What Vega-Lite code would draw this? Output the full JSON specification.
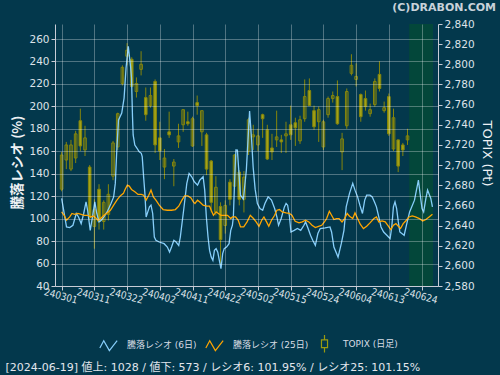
{
  "$schema": "https://vega.github.io/schema/vega-lite/v6.json",
  "width": 383,
  "height": 262,
  "autosize": "none",
  "padding": {"left": 55, "top": 24, "right": 62, "bottom": 89},
  "background": "#03384c",
  "title": {"text": "(C)DRABON.COM", "anchor": "end", "frame": "group", "orient": "top", "dx": 58, "offset": 6, "font": "DejaVu Sans", "fontSize": 11, "fontWeight": "bold", "color": "#c8d2da"},
  "datasets": {
    "zone": [{"s": 74.35, "e": 79.45}],
    "keys": [{"k": "騰落レシオ (6日)"}, {"k": "騰落レシオ (25日)"}, {"k": "TOPIX (日足)"}],
    "candles": [
      {"i":0,"o":2676,"h":2713,"l":2674,"c":2710},{"i":1,"o":2705,"h":2723,"l":2696,"c":2720},{"i":2,"o":2696,"h":2725,"l":2694,"c":2720},{"i":3,"o":2707,"h":2734,"l":2702,"c":2731},{"i":4,"o":2744,"h":2756,"l":2714,"c":2719},
      {"i":5,"o":2715,"h":2739,"l":2709,"c":2727},{"i":6,"o":2698,"h":2700,"l":2645,"c":2648},{"i":7,"o":2639,"h":2666,"l":2617,"c":2656},{"i":8,"o":2676,"h":2681,"l":2636,"c":2644},{"i":9,"o":2644,"h":2665,"l":2636,"c":2663},
      {"i":10,"o":2651,"h":2681,"l":2645,"c":2671},{"i":11,"o":2689,"h":2724,"l":2685,"c":2722},{"i":12,"o":2718,"h":2752,"l":2715,"c":2751},{"i":13,"o":2781,"h":2799,"l":2779,"c":2797},{"i":14,"o":2808,"h":2821,"l":2799,"c":2814},
      {"i":15,"o":2805,"h":2807,"l":2777,"c":2778},{"i":16,"o":2773,"h":2787,"l":2767,"c":2781},{"i":17,"o":2795,"h":2813,"l":2789,"c":2800},{"i":18,"o":2767,"h":2777,"l":2744,"c":2750},{"i":19,"o":2759,"h":2777,"l":2757,"c":2769},
      {"i":20,"o":2783,"h":2785,"l":2712,"c":2720},{"i":21,"o":2727,"h":2743,"l":2705,"c":2714},{"i":22,"o":2698,"h":2716,"l":2686,"c":2707},{"i":23,"o":2733,"h":2753,"l":2727,"c":2730},{"i":24,"o":2699,"h":2706,"l":2679,"c":2703},
      {"i":25,"o":2723,"h":2741,"l":2717,"c":2729},{"i":26,"o":2740,"h":2755,"l":2733,"c":2755},{"i":27,"o":2743,"h":2753,"l":2739,"c":2741},{"i":28,"o":2719,"h":2748,"l":2718,"c":2746},{"i":29,"o":2762,"h":2769,"l":2750,"c":2759},
      {"i":30,"o":2733,"h":2754,"l":2719,"c":2754},{"i":31,"o":2730,"h":2732,"l":2690,"c":2696},{"i":32,"o":2704,"h":2705,"l":2653,"c":2663},{"i":33,"o":2653,"h":2689,"l":2650,"c":2678},{"i":34,"o":2659,"h":2663,"l":2598,"c":2626},
      {"i":35,"o":2640,"h":2665,"l":2632,"c":2660},{"i":36,"o":2683,"h":2686,"l":2660,"c":2666},{"i":37,"o":2679,"h":2711,"l":2676,"c":2710},{"i":38,"o":2693,"h":2695,"l":2660,"c":2666},{"i":39,"o":2666,"h":2694,"l":2653,"c":2688},
      {"i":40,"o":2714,"h":2747,"l":2710,"c":2745},{"i":41,"o":2728,"h":2740,"l":2715,"c":2730},{"i":42,"o":2720,"h":2736,"l":2714,"c":2729},{"i":43,"o":2750,"h":2751,"l":2727,"c":2746},{"i":44,"o":2735,"h":2740,"l":2705,"c":2706},
      {"i":45,"o":2717,"h":2731,"l":2705,"c":2713},{"i":46,"o":2725,"h":2754,"l":2718,"c":2728},{"i":47,"o":2725,"h":2730,"l":2712,"c":2723},{"i":48,"o":2729,"h":2743,"l":2712,"c":2731},{"i":49,"o":2740,"h":2759,"l":2725,"c":2730},
      {"i":50,"o":2742,"h":2747,"l":2719,"c":2737},{"i":51,"o":2724,"h":2749,"l":2721,"c":2745},{"i":52,"o":2746,"h":2785,"l":2743,"c":2768},{"i":53,"o":2774,"h":2786,"l":2759,"c":2759},{"i":54,"o":2754,"h":2759,"l":2735,"c":2738},
      {"i":55,"o":2743,"h":2758,"l":2723,"c":2755},{"i":56,"o":2718,"h":2745,"l":2715,"c":2743},{"i":57,"o":2750,"h":2768,"l":2747,"c":2766},{"i":58,"o":2766,"h":2773,"l":2762,"c":2769},{"i":59,"o":2768,"h":2784,"l":2740,"c":2741},
      {"i":60,"o":2713,"h":2732,"l":2695,"c":2726},{"i":61,"o":2739,"h":2776,"l":2736,"c":2773},{"i":62,"o":2791,"h":2810,"l":2789,"c":2799},{"i":63,"o":2785,"h":2801,"l":2778,"c":2788},{"i":64,"o":2770,"h":2771,"l":2743,"c":2748},
      {"i":65,"o":2766,"h":2774,"l":2754,"c":2758},{"i":66,"o":2751,"h":2761,"l":2748,"c":2755},{"i":67,"o":2760,"h":2786,"l":2758,"c":2783},{"i":68,"o":2790,"h":2803,"l":2773,"c":2776},{"i":69,"o":2754,"h":2763,"l":2752,"c":2757},
      {"i":70,"o":2768,"h":2771,"l":2729,"c":2731},{"i":71,"o":2716,"h":2756,"l":2714,"c":2747},{"i":72,"o":2725,"h":2725,"l":2693,"c":2699},{"i":73,"o":2720,"h":2722,"l":2709,"c":2715},{"i":74,"o":2725,"h":2736,"l":2720,"c":2729}
    ],
    "r6": [
      {"i":0,"v":118.0},{"i":1.04,"v":92.6},{"i":1.73,"v":92.0},{"i":2.42,"v":94.1},{"i":3.13,"v":104.6},{"i":3.61,"v":101.5},{"i":4.18,"v":95.6},{"i":4.72,"v":104.6},{"i":5.22,"v":114.9},{"i":5.55,"v":107.5},
      {"i":6.12,"v":89.6},{"i":6.6,"v":101.5},{"i":7.1,"v":114.9},{"i":7.52,"v":104.6},{"i":8.0,"v":97.1},{"i":8.48,"v":98.6},{"i":9.04,"v":101.5},{"i":9.73,"v":106.0},{"i":10.56,"v":113.5},{"i":11.13,"v":119.4},
      {"i":11.48,"v":131.4},{"i":11.82,"v":162.7},{"i":12.17,"v":188.0},{"i":12.86,"v":194.0},{"i":13.36,"v":207.4},{"i":13.78,"v":234.2},{"i":14.26,"v":253.6},{"i":14.74,"v":235.7},{"i":14.95,"v":225.3},{"i":15.16,"v":191.0},
      {"i":15.3,"v":174.6},{"i":15.66,"v":165.6},{"i":16.14,"v":162.7},{"i":16.56,"v":159.7},{"i":17.04,"v":158.2},{"i":17.24,"v":155.2},{"i":17.54,"v":137.3},{"i":17.81,"v":122.5},{"i":18.08,"v":101.5},{"i":18.43,"v":106.0},
      {"i":18.79,"v":110.5},{"i":19.12,"v":112.0},{"i":19.48,"v":104.6},{"i":19.83,"v":83.6},{"i":20.17,"v":80.7},{"i":20.88,"v":79.2},{"i":21.92,"v":77.7},{"i":22.61,"v":74.7},{"i":23.09,"v":70.2},{"i":23.51,"v":74.7},
      {"i":24.01,"v":80.7},{"i":24.49,"v":79.2},{"i":25.05,"v":76.2},{"i":25.39,"v":83.6},{"i":26.1,"v":107.5},{"i":26.78,"v":131.4},{"i":27.27,"v":140.3},{"i":27.83,"v":137.3},{"i":28.39,"v":132.8},{"i":29.08,"v":129.9},
      {"i":29.56,"v":134.3},{"i":30.27,"v":137.3},{"i":30.61,"v":125.4},{"i":30.96,"v":101.5},{"i":31.32,"v":83.6},{"i":31.65,"v":71.7},{"i":32.0,"v":65.8},{"i":32.36,"v":62.8},{"i":32.69,"v":71.7},{"i":33.05,"v":73.3},
      {"i":33.4,"v":70.2},{"i":33.74,"v":62.8},{"i":34.09,"v":55.4},{"i":34.45,"v":68.8},{"i":34.78,"v":73.3},{"i":35.28,"v":74.7},{"i":35.82,"v":77.7},{"i":36.18,"v":89.6},{"i":36.53,"v":94.1},{"i":36.74,"v":101.5},
      {"i":37.01,"v":134.3},{"i":37.29,"v":161.2},{"i":37.6,"v":161.0},{"i":38.26,"v":120.9},{"i":38.89,"v":117.4},{"i":39.52,"v":143.3},{"i":40.21,"v":195.8},{"i":40.63,"v":171.0},{"i":40.98,"v":145.7},{"i":41.4,"v":126.3},
      {"i":41.88,"v":113.5},{"i":42.44,"v":109.0},{"i":43.01,"v":107.5},{"i":43.49,"v":113.5},{"i":44.18,"v":119.4},{"i":44.89,"v":116.5},{"i":45.57,"v":109.0},{"i":46.05,"v":101.5},{"i":46.41,"v":94.1},{"i":46.97,"v":100.1},
      {"i":47.66,"v":110.5},{"i":48.02,"v":113.5},{"i":48.35,"v":112.0},{"i":48.71,"v":103.0},{"i":49.06,"v":88.1},{"i":49.75,"v":89.6},{"i":50.44,"v":91.2},{"i":51.15,"v":89.6},{"i":51.84,"v":94.1},{"i":52.19,"v":97.1},
      {"i":52.73,"v":91.2},{"i":53.24,"v":85.2},{"i":53.72,"v":80.7},{"i":54.28,"v":76.2},{"i":54.82,"v":86.7},{"i":55.32,"v":91.2},{"i":56.37,"v":91.7},{"i":57.41,"v":92.6},{"i":57.75,"v":88.1},{"i":58.25,"v":74.7},
      {"i":59.14,"v":65.8},{"i":59.83,"v":77.7},{"i":60.4,"v":89.6},{"i":60.88,"v":110.5},{"i":61.59,"v":122.5},{"i":62.28,"v":131.4},{"i":62.76,"v":125.4},{"i":63.32,"v":119.4},{"i":63.8,"v":112.0},{"i":64.36,"v":104.6},
      {"i":64.84,"v":116.5},{"i":65.26,"v":120.9},{"i":65.97,"v":120.9},{"i":66.45,"v":119.4},{"i":66.93,"v":114.9},{"i":67.35,"v":110.5},{"i":67.85,"v":101.5},{"i":68.33,"v":92.6},{"i":68.89,"v":88.1},{"i":69.58,"v":85.2},
      {"i":70.27,"v":82.2},{"i":70.63,"v":92.6},{"i":70.98,"v":110.5},{"i":71.32,"v":114.9},{"i":71.67,"v":109.0},{"i":72.03,"v":97.1},{"i":72.36,"v":88.1},{"i":73.28,"v":85.2},{"i":73.76,"v":94.1},{"i":74.45,"v":106.0},
      {"i":75.49,"v":116.5},{"i":76.33,"v":134.3},{"i":76.68,"v":122.5},{"i":77.1,"v":109.0},{"i":77.45,"v":106.0},{"i":77.93,"v":118.0},{"i":78.29,"v":125.4},{"i":78.98,"v":118.0},{"i":79.33,"v":110.5}
    ],
    "r25": [
      {"i":0,"v":106.0},{"i":0.54,"v":103.0},{"i":1.04,"v":98.6},{"i":1.73,"v":101.5},{"i":2.21,"v":104.6},{"i":2.78,"v":103.9},{"i":3.47,"v":104.6},{"i":4.18,"v":103.9},{"i":4.86,"v":103.0},{"i":5.55,"v":103.0},
      {"i":6.26,"v":101.5},{"i":6.81,"v":102.4},{"i":7.31,"v":100.6},{"i":7.79,"v":98.6},{"i":8.35,"v":100.1},{"i":9.04,"v":103.0},{"i":9.73,"v":105.1},{"i":10.44,"v":107.5},{"i":11.13,"v":112.0},{"i":11.82,"v":116.5},
      {"i":12.53,"v":120.3},{"i":13.22,"v":122.5},{"i":13.57,"v":126.0},{"i":14.05,"v":129.9},{"i":14.47,"v":129.0},{"i":14.95,"v":126.0},{"i":15.66,"v":123.9},{"i":16.35,"v":121.6},{"i":17.04,"v":121.6},{"i":17.54,"v":120.9},
      {"i":18.08,"v":116.5},{"i":18.64,"v":120.9},{"i":19.12,"v":125.4},{"i":19.62,"v":119.4},{"i":20.17,"v":116.5},{"i":20.88,"v":112.0},{"i":21.71,"v":108.1},{"i":22.61,"v":107.5},{"i":23.51,"v":107.5},{"i":24.34,"v":108.1},
      {"i":25.05,"v":111.1},{"i":25.74,"v":116.5},{"i":26.3,"v":120.3},{"i":26.99,"v":120.3},{"i":27.68,"v":118.5},{"i":28.18,"v":114.9},{"i":28.52,"v":113.5},{"i":29.08,"v":116.5},{"i":29.56,"v":114.9},{"i":30.27,"v":112.0},
      {"i":30.96,"v":111.1},{"i":31.65,"v":111.1},{"i":32.0,"v":107.5},{"i":32.48,"v":103.0},{"i":33.05,"v":106.0},{"i":33.53,"v":104.6},{"i":34.09,"v":103.0},{"i":35.49,"v":103.0},{"i":36.18,"v":100.1},{"i":36.53,"v":101.5},
      {"i":37.22,"v":101.5},{"i":37.79,"v":98.6},{"i":38.27,"v":92.6},{"i":38.96,"v":92.6},{"i":39.67,"v":97.1},{"i":40.36,"v":103.0},{"i":41.04,"v":100.1},{"i":41.61,"v":97.1},{"i":42.23,"v":93.2},{"i":42.8,"v":98.6},
      {"i":43.28,"v":101.5},{"i":43.84,"v":97.1},{"i":44.32,"v":93.2},{"i":44.89,"v":98.6},{"i":45.57,"v":103.0},{"i":46.05,"v":107.5},{"i":46.62,"v":108.1},{"i":47.18,"v":106.0},{"i":48.02,"v":105.1},{"i":48.71,"v":104.6},
      {"i":49.27,"v":103.0},{"i":49.96,"v":97.7},{"i":50.79,"v":96.2},{"i":51.48,"v":97.1},{"i":52.19,"v":98.6},{"i":52.88,"v":97.1},{"i":53.57,"v":94.1},{"i":54.28,"v":92.0},{"i":54.97,"v":93.2},{"i":55.66,"v":94.1},
      {"i":56.22,"v":97.1},{"i":56.7,"v":100.1},{"i":57.27,"v":106.6},{"i":57.75,"v":103.0},{"i":58.25,"v":99.2},{"i":58.79,"v":100.1},{"i":59.35,"v":100.1},{"i":59.98,"v":97.1},{"i":60.54,"v":100.1},{"i":61.09,"v":104.6},
      {"i":61.59,"v":102.2},{"i":62.28,"v":100.1},{"i":62.76,"v":105.1},{"i":63.32,"v":100.1},{"i":63.88,"v":95.0},{"i":64.57,"v":91.2},{"i":65.26,"v":93.2},{"i":65.97,"v":96.2},{"i":66.81,"v":100.1},{"i":67.35,"v":101.5},
      {"i":67.85,"v":97.1},{"i":68.54,"v":98.0},{"i":69.23,"v":97.1},{"i":69.94,"v":93.2},{"i":70.42,"v":90.3},{"i":70.98,"v":94.1},{"i":71.52,"v":95.6},{"i":72.03,"v":93.2},{"i":72.51,"v":91.2},{"i":73.07,"v":95.6},
      {"i":73.76,"v":98.6},{"i":74.32,"v":101.5},{"i":75.01,"v":102.4},{"i":75.7,"v":101.5},{"i":76.54,"v":100.1},{"i":77.24,"v":98.0},{"i":77.93,"v":99.2},{"i":78.62,"v":101.5},{"i":79.33,"v":103.9}
    ]
  },
  "layer": [
    {
      "data": {"name": "zone"},
      "mark": {"type": "rect", "color": "#03473a"},
      "encoding": {
        "x": {"field": "s", "type": "quantitative", "scale": {"domain": [-0.35, 79.45], "nice": false, "zero": false},
          "axis": {
            "values": [0, 7, 14, 21, 28, 35, 42, 49, 56, 63, 70, 77], "tickCount": 30,
            "labelExpr": "['240301','240311','240322','240402','240411','240422','240502','240515','240524','240604','240613','240624'][round(datum.value / 7)]",
            "labelAngle": 15, "labelAlign": "center", "labelBaseline": "top", "labelOverlap": false, "labelPadding": 1,
            "labelFontSize": 10, "labelFont": "DejaVu Sans Condensed, DejaVu Sans",
            "grid": true, "zindex": 1,
            "title": "[2024-06-19]  値上: 1028 / 値下: 573 / レシオ6: 101.95% / レシオ25: 101.15%",
            "titleX": -50, "titleY": 84, "titleAlign": "left", "titleBaseline": "alphabetic", "titleAnchor": "start",
            "titleFontSize": 11, "titleFontWeight": "normal", "titleColor": "#e2e6ec", "titleFont": "DejaVu Sans, Noto Sans CJK JP"
          }
        },
        "x2": {"field": "e"}
      }
    },
    {
      "data": {"name": "candles"},
      "layer": [
        {
          "mark": {"type": "rule", "color": "#85850c", "strokeWidth": 1},
          "encoding": {
            "x": {"field": "i", "type": "quantitative"},
            "y": {"field": "l", "type": "quantitative", "scale": {"domain": [2580, 2840], "nice": false, "zero": false},
              "axis": {"orient": "right", "values": [2580,2600,2620,2640,2660,2680,2700,2720,2740,2760,2780,2800,2820,2840], "tickCount": 30, "labelExpr": "format(datum.value, ',')", "grid": false, "labelOverlap": false,
                "title": "TOPIX (Pt)", "titleAngle": 90, "titleX": 48, "titleY": 129, "titleAlign": "center", "titleBaseline": "middle",
                "titleFontSize": 13, "titleFontWeight": "normal", "titleColor": "#eef1f4", "titleFont": "DejaVu Sans"}},
            "y2": {"field": "h"}
          }
        },
        {
          "mark": {"type": "bar", "width": 2.6, "stroke": "#85850c", "strokeWidth": 1},
          "encoding": {
            "x": {"field": "i", "type": "quantitative"},
            "y": {"field": "o", "type": "quantitative",
              "axis": {"orient": "right", "values": [2580,2600,2620,2640,2660,2680,2700,2720,2740,2760,2780,2800,2820,2840], "tickCount": 30, "labelExpr": "format(datum.value, ',')", "grid": false, "labelOverlap": false,
                "title": "TOPIX (Pt)", "titleAngle": 90, "titleX": 48, "titleY": 129, "titleAlign": "center", "titleBaseline": "middle",
                "titleFontSize": 13, "titleFontWeight": "normal", "titleColor": "#eef1f4", "titleFont": "DejaVu Sans"}},
            "y2": {"field": "c"},
            "fill": {"condition": {"test": "datum.c < datum.o", "value": "#a3a317"}, "value": "transparent"}
          }
        }
      ]
    },
    {
      "layer": [
        {
          "data": {"name": "r6"},
          "mark": {"type": "line", "color": "#87cefa", "strokeWidth": 1.3, "clip": true},
          "encoding": {
            "x": {"field": "i", "type": "quantitative"},
            "y": {"field": "v", "type": "quantitative", "scale": {"domain": [40, 273.4], "nice": false, "zero": false},
              "axis": {"orient": "left", "values": [40,60,80,100,120,140,160,180,200,220,240,260], "tickCount": 30, "grid": true, "zindex": 1, "labelOverlap": false,
                "title": "騰落レシオ (%)", "titleAngle": 270, "titleX": -38, "titleY": 138, "titleAlign": "center", "titleBaseline": "middle",
                "titleFontSize": 13.5, "titleFontWeight": "bold", "titleColor": "#eef1f4", "titleFont": "Noto Sans CJK JP"}}
          }
        },
        {
          "data": {"name": "r25"},
          "mark": {"type": "line", "color": "#ffa500", "strokeWidth": 1.3, "clip": true},
          "encoding": {
            "x": {"field": "i", "type": "quantitative"},
            "y": {"field": "v", "type": "quantitative"}
          }
        }
      ]
    },
    {
      "data": {"name": "keys"},
      "mark": {"type": "point", "filled": false, "opacity": 0},
      "encoding": {
        "color": {"field": "k", "type": "nominal",
          "scale": {"domain": ["騰落レシオ (6日)", "騰落レシオ (25日)", "TOPIX (日足)"], "range": ["#87cefa", "#ffa500", "#9a9a10"]},
          "legend": {"orient": "none", "legendX": 44, "legendY": 310, "direction": "horizontal", "title": null,
            "labelColor": "#d8dde5", "labelFontSize": 9, "labelFont": "DejaVu Sans, Noto Sans CJK JP",
            "symbolSize": 300, "symbolStrokeWidth": 1.2, "symbolOpacity": 1, "symbolFillColor": "transparent",
            "columnPadding": 6, "labelOffset": 9, "padding": 0}},
        "shape": {"field": "k", "type": "nominal",
          "scale": {"domain": ["騰落レシオ (6日)", "騰落レシオ (25日)", "TOPIX (日足)"],
            "range": ["M-1,0.3L-0.55,-0.55L0.1,0.6L1,-0.55", "M-1,0.3L-0.55,-0.55L0.1,0.6L1,-0.55", "M0,-1L0,-0.45M-0.35,-0.45L0.35,-0.45L0.35,0.45L-0.35,0.45ZM0,0.45L0,1"]},
          "legend": {"orient": "none", "legendX": 44, "legendY": 310, "direction": "horizontal", "title": null,
            "labelColor": "#d8dde5", "labelFontSize": 9, "labelFont": "DejaVu Sans, Noto Sans CJK JP",
            "symbolSize": 300, "symbolStrokeWidth": 1.2, "symbolOpacity": 1, "symbolFillColor": "transparent",
            "columnPadding": 6, "labelOffset": 9, "padding": 0}}
      }
    }
  ],
  "resolve": {"scale": {"y": "independent"}},
  "config": {
    "view": {"fill": "#1b3562", "stroke": null},
    "font": "DejaVu Sans",
    "axis": {
      "labelColor": "#dde2e8", "labelFont": "DejaVu Sans", "labelFontSize": 10.5, "labelPadding": 2,
      "domainColor": "#c8ccd6", "tickColor": "#c8ccd6", "tickSize": 4,
      "gridColor": "#ffffff", "gridOpacity": 0.3, "gridWidth": 1
    }
  }
}
